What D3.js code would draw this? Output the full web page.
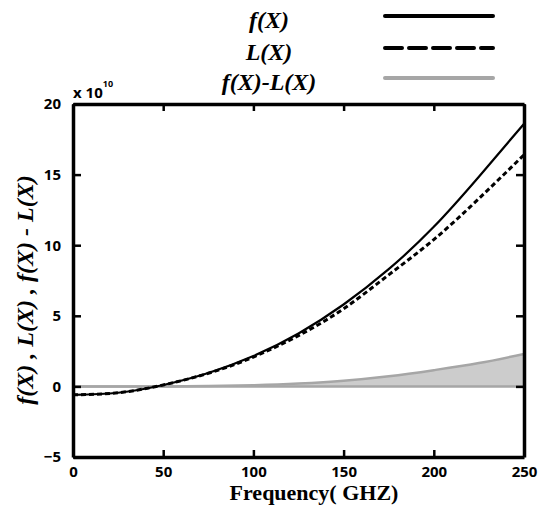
<!DOCTYPE html>
<html>
<head>
<meta charset="utf-8">
<script src="https://cdn.jsdelivr.net/npm/d3@7"></script>
<style>
  body { margin: 0; background: #fff; }
  text { fill: #000; }
</style>
</head>
<body>
<div id="chart"></div>
<script>
var w = 540;
var h = 508;

// data (values in units of 1e10)
var freq = [0, 25, 50, 75, 100, 125, 150, 175, 200, 225, 250];
var fX   = [-0.6, -0.45, 0.1, 0.95, 2.15, 3.75, 5.8, 8.3, 11.3, 14.85, 18.6];
var lX   = [-0.6, -0.45, 0.1, 0.93, 2.08, 3.6, 5.5, 7.9, 10.4, 13.3, 16.4];
var diffX = [0, 0, 0, 0.02, 0.08, 0.2, 0.4, 0.72, 1.15, 1.65, 2.3];
var xTicks = [0, 50, 100, 150, 200, 250];
var yTicks = [-5, 0, 5, 10, 15, 20];

var m = {left: 73, right: 16, top: 104, bottom: 51};
var width = w - m.left - m.right,
    height = h - m.top - m.bottom;

var svg = d3.select("#chart")
    .append("svg")
    .attr("width", w)
    .attr("height", h);

var xScale = d3.scaleLinear().domain([0, 250]).range([0, width]),
    yScale = d3.scaleLinear().domain([-5, 20]).range([height, 0]);

var g = svg.append("g")
    .attr("transform", "translate(" + m.left + "," + m.top + ")");

var pts = function(vals) {
    return freq.map(function(f, i) { return [f, vals[i]]; });
};

// gray area between zero and f-L
var area = d3.area()
    .x(function(d) { return xScale(d[0]); })
    .y0(yScale(0))
    .y1(function(d) { return yScale(d[1]); })
    .curve(d3.curveMonotoneX);

g.append("path")
    .datum(pts(diffX))
    .attr("d", area)
    .style("fill", "#cccccc");

var line = d3.line()
    .x(function(d) { return xScale(d[0]); })
    .y(function(d) { return yScale(d[1]); })
    .curve(d3.curveNatural);

// zero line + difference curve
g.append("line")
    .attr("x1", 0).attr("x2", width)
    .attr("y1", yScale(0)).attr("y2", yScale(0))
    .style("stroke", "#a6a6a6").style("stroke-width", 2.5);

g.append("path")
    .datum(pts(diffX))
    .attr("d", line.curve(d3.curveMonotoneX))
    .style("fill", "none").style("stroke", "#a6a6a6").style("stroke-width", 2.5);

line.curve(d3.curveNatural);

g.append("path")
    .datum(pts(lX))
    .attr("d", line)
    .style("fill", "none").style("stroke", "#000")
    .style("stroke-width", 3).style("stroke-dasharray", "5,3");

g.append("path")
    .datum(pts(fX))
    .attr("d", line)
    .style("fill", "none").style("stroke", "#000").style("stroke-width", 2.2);

// axes with inward ticks on all sides
var tickFont = "bold 15px 'Open Sans', 'DejaVu Sans', sans-serif";

var xAxis = g.append("g")
    .attr("transform", "translate(0," + height + ")")
    .call(d3.axisBottom(xScale).tickValues(xTicks).tickSizeInner(-7).tickSizeOuter(0).tickPadding(9));
var yAxis = g.append("g")
    .call(d3.axisLeft(yScale).tickValues(yTicks).tickSizeInner(-8).tickSizeOuter(0).tickPadding(12));
var xTop = g.append("g")
    .call(d3.axisTop(xScale).tickValues(xTicks).tickSizeInner(-7).tickSizeOuter(0).tickFormat(""));
var yRight = g.append("g")
    .attr("transform", "translate(" + width + ",0)")
    .call(d3.axisRight(yScale).tickValues(yTicks).tickSizeInner(-8).tickSizeOuter(0).tickFormat(""));

[xAxis, yAxis, xTop, yRight].forEach(function(a) {
    a.selectAll("path").style("stroke", "#000").style("stroke-width", 3.5);
    a.selectAll("line").style("stroke", "#000").style("stroke-width", 2.5);
    a.selectAll("text").style("font", tickFont).style("fill", "#000");
});

// x 10^10 multiplier
var mult = svg.append("text")
    .attr("x", m.left).attr("y", m.top - 6)
    .style("font", "bold 15px 'Open Sans', sans-serif");
mult.append("tspan").text("x 10");
mult.append("tspan").attr("dy", -11).style("font-size", "9px").text("10");

// axis titles
var titleFont = "italic bold 24px 'Liberation Serif', 'DejaVu Serif', serif";

svg.append("text")
    .attr("transform", "translate(33,290) rotate(-90)")
    .attr("text-anchor", "middle")
    .style("font", titleFont)
    .text("f(X) , L(X) , f(X) - L(X)");

svg.append("text")
    .attr("x", 314).attr("y", h - 8)
    .attr("text-anchor", "middle")
    .style("font", "bold 22px 'Liberation Serif', serif")
    .text("Frequency( GHZ)");

// legend
var legend = [
    {name: "f(X)", color: "#000", dash: null, y: 16},
    {name: "L(X)", color: "#000", dash: "17,7", y: 48},
    {name: "f(X)-L(X)", color: "#a6a6a6", dash: null, y: 78}
];
var lg = svg.selectAll(".leg").data(legend).enter().append("g");
lg.append("text")
    .attr("x", 269).attr("y", function(d) { return d.y + 12; })
    .attr("text-anchor", "middle")
    .style("font", titleFont)
    .text(function(d) { return d.name; });
lg.append("line")
    .attr("x1", 385).attr("x2", 493)
    .attr("y1", function(d) { return d.y; }).attr("y2", function(d) { return d.y; })
    .style("stroke", function(d) { return d.color; })
    .style("stroke-width", 4)
    .style("stroke-linecap", "round")
    .style("stroke-dasharray", function(d) { return d.dash; });
</script>
</body>
</html>
